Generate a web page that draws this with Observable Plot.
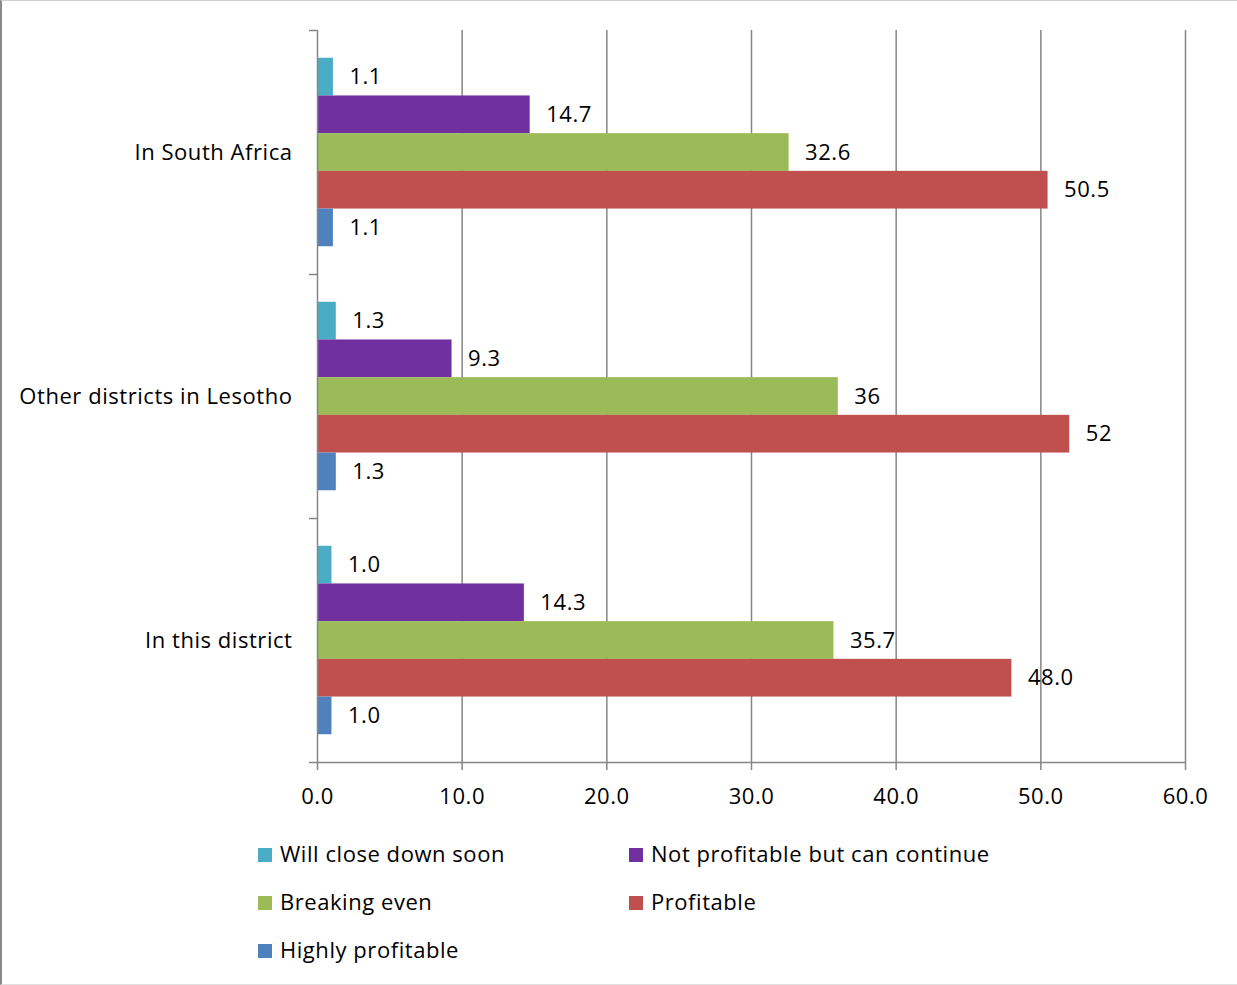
<!DOCTYPE html>
<html>
<head>
<meta charset="utf-8">
<script src="https://cdn.jsdelivr.net/npm/d3@7"></script>
<script src="https://cdn.jsdelivr.net/npm/@observablehq/plot@0.6"></script>
<style>
  html, body { margin: 0; padding: 0; background: #fff; }
  #wrap { position: relative; width: 1237px; height: 985px; box-sizing: border-box;
          border-top: 1px solid #d0d0d0; border-left: 2px solid #8a8a8a; border-bottom: 1px solid #e0e0e0;
          font-family: "Open Sans", sans-serif; overflow: hidden; }
  #chart { position: absolute; left: -2px; top: -1px; }
  .legend { position: absolute; font-size: 22px; letter-spacing: 0.55px; color: #000; line-height: 22px; white-space: nowrap; font-variant-ligatures: none; }
  .legend .sw { display: inline-block; width: 14px; height: 14px; margin-right: 8px; vertical-align: 0px; }
</style>
</head>
<body>
<div id="wrap"><div id="chart"></div><div id="legend"></div></div>
<script>
// Groups listed top to bottom
const groups = ["In South Africa", "Other districts in Lesotho", "In this district"];
// Series listed top to bottom within each group
const series = ["Will close down soon", "Not profitable but can continue", "Breaking even", "Profitable", "Highly profitable"];
const colors = ["#4BACC6", "#7030A0", "#9BBB59", "#C0504D", "#4F81BD"];
const southAfrica = [1.1, 14.7, 32.6, 50.5, 1.1];
const otherDistricts = [1.3, 9.3, 36, 52, 1.3];
const thisDistrict = [1.0, 14.3, 35.7, 48.0, 1.0];
const southAfricaLabels = ["1.1", "14.7", "32.6", "50.5", "1.1"];
const otherDistrictsLabels = ["1.3", "9.3", "36", "52", "1.3"];
const thisDistrictLabels = ["1.0", "14.3", "35.7", "48.0", "1.0"];
const xTicks = [0, 10, 20, 30, 40, 50, 60];

const values = [southAfrica, otherDistricts, thisDistrict];
const labels = [southAfricaLabels, otherDistrictsLabels, thisDistrictLabels];
const nG = groups.length, nS = series.length;
const barH = 0.1545;                    // bar thickness as a fraction of a group band
const pad = (1 - nS * barH) / 2;

const rows = [];
groups.forEach((g, gi) => series.forEach((s, si) => {
  rows.push({group: g, series: s, value: values[gi][si], label: labels[gi][si], gi, si});
}));
// group gi occupies y in [nG-1-gi, nG-gi] (top group at the top)
const barTop = d => (nG - d.gi) - pad - d.si * barH;
const barBottom = d => barTop(d) - barH;

const groupRows = groups.map((g, gi) => ({group: g, gi}));

const plot = Plot.plot({
  width: 1237,
  height: 820,
  marginLeft: 317,
  marginRight: 52,
  marginTop: 30,
  marginBottom: 58,
  style: {fontFamily: "'Open Sans', sans-serif", fontSize: "22px", letterSpacing: "0.55px", color: "#000", background: "transparent"},
  x: {domain: [0, 60], ticks: xTicks, tickFormat: d => d.toFixed(1), tickSize: 8, tickPadding: 18, label: null, line: false},
  y: {domain: [0, nG], ticks: d3.range(nG + 1), tickFormat: () => "", tickSize: 8, label: null},
  color: {domain: series, range: colors},
  marks: [
    Plot.ruleX(xTicks.slice(1), {stroke: "#868686", strokeWidth: 1.5}),
    Plot.rectX(rows, {x1: 0, x2: "value", y1: barBottom, y2: barTop, fill: "series", inset: 0}),
    Plot.ruleX([0], {stroke: "#868686", strokeWidth: 1.5}),
    Plot.ruleY([0], {x1: 0, x2: 60, stroke: "#868686", strokeWidth: 1.5}),
    Plot.text(rows, {x: "value", y: d => (barTop(d) + barBottom(d)) / 2, text: "label", dx: 16, textAnchor: "start", fill: "#000"}),
    Plot.text(groupRows, {x: 0, y: d => nG - d.gi - 0.5, text: "group", dx: -25, textAnchor: "end", fill: "#000"})
  ]
});
// style axis tick strokes gray
plot.querySelectorAll('g[aria-label$="axis"] path, g[aria-label$="tick"] path').forEach(p => { p.setAttribute("stroke", "#868686"); p.setAttribute("stroke-width", "1.5"); });
document.getElementById("chart").appendChild(plot);

// Legend (HTML, below the SVG)
const legend = document.getElementById("legend");
const legPos = [[256, 841], [627, 841], [256, 889], [627, 889], [256, 937]];
series.forEach((s, i) => {
  const div = document.createElement("div");
  div.className = "legend";
  div.style.left = legPos[i][0] + "px";
  div.style.top = legPos[i][1] + "px";
  div.innerHTML = `<span class="sw" style="background:${colors[i]}"></span>${s}`;
  legend.appendChild(div);
});
</script>
</body>
</html>
